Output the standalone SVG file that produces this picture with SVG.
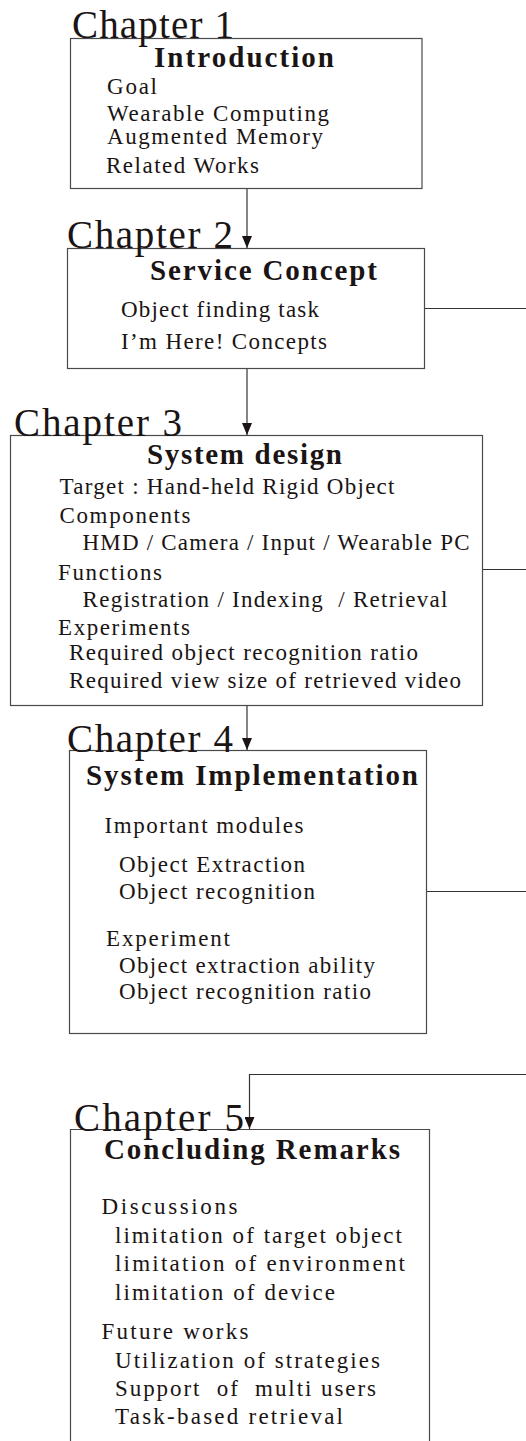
<svg xmlns="http://www.w3.org/2000/svg" width="526" height="1441" viewBox="0 0 526 1441">
  <style>
    .box { fill: none; stroke: #4a4a4a; stroke-width: 1.2; }
    .link { fill: none; stroke: #333; stroke-width: 1.2; }
    .chap { font-family: "Liberation Serif", "Times New Roman", serif; font-size: 39px; fill: #1a1414; }
    .head { font-family: "Liberation Serif", "Times New Roman", serif; font-size: 29px; font-weight: bold; fill: #1a1414; }
    .item { font-family: "Liberation Serif", "Times New Roman", serif; font-size: 23px; fill: #1a1414; white-space: pre; }
  </style>
  <defs>
    <marker id="arrow" viewBox="0 0 12 10" refX="12" refY="5" markerWidth="12" markerHeight="10" markerUnits="userSpaceOnUse" orient="auto">
      <path d="M0,0 L12,5 L0,10 z" fill="#1a1414"/>
    </marker>
  </defs>

  <!-- connectors between chapters and to the right margin -->
  <g id="connectors">
    <line class="link" x1="247" y1="188" x2="247" y2="248" marker-end="url(#arrow)"/>
    <line class="link" x1="247" y1="368" x2="247" y2="435" marker-end="url(#arrow)"/>
    <line class="link" x1="247" y1="705" x2="247" y2="750" marker-end="url(#arrow)"/>
    <path class="link" d="M526,1074.5 H249.5 V1129" marker-end="url(#arrow)"/>
    <line class="link" x1="424.5" y1="308.5" x2="526" y2="308.5"/>
    <line class="link" x1="482.5" y1="569.5" x2="526" y2="569.5"/>
    <line class="link" x1="426.5" y1="891.5" x2="526" y2="891.5"/>
  </g>

  <!-- Chapter 1 -->
  <g id="chapter1">
    <rect class="box" x="70.5" y="38.5" width="351.5" height="150"/>
    <text class="chap" x="72" y="37.5" textLength="162" lengthAdjust="spacing">Chapter 1</text>
    <text class="head" x="154" y="66.5" font-size="32" textLength="180" lengthAdjust="spacing">Introduction</text>
    <text class="item" x="107" y="94" textLength="50" lengthAdjust="spacing">Goal</text>
    <text class="item" x="107" y="120.5" textLength="222" lengthAdjust="spacing">Wearable Computing</text>
    <text class="item" x="107" y="143.5" textLength="216" lengthAdjust="spacing">Augmented Memory</text>
    <text class="item" x="106" y="172.5" textLength="153" lengthAdjust="spacing">Related Works</text>
  </g>

  <!-- Chapter 2 -->
  <g id="chapter2">
    <rect class="box" x="67.5" y="248.5" width="357" height="120"/>
    <text class="chap" x="67" y="248" textLength="166" lengthAdjust="spacing">Chapter 2</text>
    <text class="head" x="150" y="279.5" textLength="227" lengthAdjust="spacing">Service Concept</text>
    <text class="item" x="121" y="316.5" textLength="198" lengthAdjust="spacing">Object finding task</text>
    <text class="item" x="121" y="349" textLength="206" lengthAdjust="spacing">I’m Here! Concepts</text>
  </g>

  <!-- Chapter 3 -->
  <g id="chapter3">
    <rect class="box" x="10.5" y="435.5" width="472" height="270"/>
    <text class="chap" x="14" y="436" textLength="168" lengthAdjust="spacing">Chapter 3</text>
    <text class="head" x="147" y="463.5" textLength="195" lengthAdjust="spacing">System design</text>
    <text class="item" x="59.5" y="494" textLength="335" lengthAdjust="spacing">Target : Hand-held Rigid Object</text>
    <text class="item" x="59.5" y="522.5" textLength="131" lengthAdjust="spacing">Components</text>
    <text class="item" x="82.5" y="550" textLength="387" lengthAdjust="spacing">HMD / Camera / Input / Wearable PC</text>
    <text class="item" x="58" y="580" textLength="104" lengthAdjust="spacing">Functions</text>
    <text class="item" x="82.5" y="606.5" textLength="365" lengthAdjust="spacing">Registration / Indexing  / Retrieval</text>
    <text class="item" x="58" y="635" textLength="132" lengthAdjust="spacing">Experiments</text>
    <text class="item" x="69" y="660" textLength="349" lengthAdjust="spacing">Required object recognition ratio</text>
    <text class="item" x="69" y="687.5" textLength="392" lengthAdjust="spacing">Required view size of retrieved video</text>
  </g>

  <!-- Chapter 4 -->
  <g id="chapter4">
    <rect class="box" x="69.5" y="750.5" width="357" height="283"/>
    <text class="chap" x="67" y="751.5" textLength="166" lengthAdjust="spacing">Chapter 4</text>
    <text class="head" x="86" y="785" textLength="332" lengthAdjust="spacing">System Implementation</text>
    <text class="item" x="104.5" y="832.5" textLength="199" lengthAdjust="spacing">Important modules</text>
    <text class="item" x="119" y="871.5" textLength="186" lengthAdjust="spacing">Object Extraction</text>
    <text class="item" x="119" y="898.5" textLength="196" lengthAdjust="spacing">Object recognition</text>
    <text class="item" x="106" y="946" textLength="124" lengthAdjust="spacing">Experiment</text>
    <text class="item" x="119" y="972.5" textLength="256" lengthAdjust="spacing">Object extraction ability</text>
    <text class="item" x="119" y="999" textLength="252" lengthAdjust="spacing">Object recognition ratio</text>
  </g>

  <!-- Chapter 5 (box continues past the lower edge) -->
  <g id="chapter5">
    <path class="box" d="M70.5,1441 V1129.5 H429.5 V1441"/>
    <text class="chap" x="74" y="1130.5" textLength="170" lengthAdjust="spacing">Chapter 5</text>
    <text class="head" x="104" y="1158.5" textLength="296" lengthAdjust="spacing">Concluding Remarks</text>
    <text class="item" x="101.5" y="1214" textLength="136" lengthAdjust="spacing">Discussions</text>
    <text class="item" x="115" y="1242.5" textLength="287" lengthAdjust="spacing">limitation of target object</text>
    <text class="item" x="115" y="1271" textLength="290" lengthAdjust="spacing">limitation of environment</text>
    <text class="item" x="115" y="1300" textLength="220" lengthAdjust="spacing">limitation of device</text>
    <text class="item" x="101.5" y="1338.5" textLength="147" lengthAdjust="spacing">Future works</text>
    <text class="item" x="115" y="1367.5" textLength="265" lengthAdjust="spacing">Utilization of strategies</text>
    <text class="item" x="115" y="1396" textLength="261" lengthAdjust="spacing">Support  of  multi users</text>
    <text class="item" x="115" y="1424" textLength="228" lengthAdjust="spacing">Task-based retrieval</text>
  </g>
</svg>
